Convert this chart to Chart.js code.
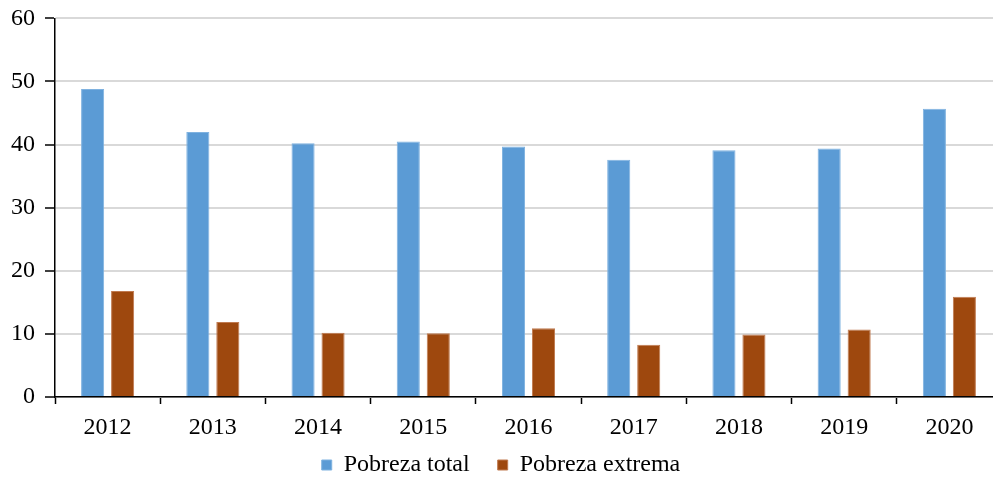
<!DOCTYPE html>
<html>
<head>
<meta charset="utf-8">
<script src="https://cdn.jsdelivr.net/npm/chart.js@4"></script>
<style>
  html, body { margin: 0; padding: 0; background: #fff; overflow: hidden; }
  #wrap { width: 1002px; height: 504px; }
</style>
</head>
<body>
<div id="wrap"><canvas id="barChart"></canvas></div>
<script>
const years = ['2012', '2013', '2014', '2015', '2016', '2017', '2018', '2019', '2020'];
const pobrezaTotal = [48.8, 42.0, 40.2, 40.5, 39.7, 37.6, 39.1, 39.4, 45.7];
const pobrezaExtrema = [16.8, 11.9, 10.2, 10.1, 10.9, 8.3, 9.9, 10.7, 15.9];
const yTicks = [0, 10, 20, 30, 40, 50, 60];

const serif = 'Liberation Serif';

// legend sits a little closer to the axis labels than chart.js would put it
const liftLegend = {
  id: 'liftLegend',
  afterLayout(chart) {
    const lg = chart.legend;
    if (lg) { lg.top -= 17; lg.bottom -= 17; }
  }
};

const ctx = document.getElementById('barChart').getContext('2d');

new Chart(ctx, {
  type: 'bar',
  data: {
    labels: years,
    datasets: [{
      label: 'Pobreza total',
      data: pobrezaTotal,
      backgroundColor: '#5B9BD5',
      borderColor: '#7FB2E0',
      borderWidth: 1,
      barPercentage: 0.77,
      categoryPercentage: 0.57
    }, {
      label: 'Pobreza extrema',
      data: pobrezaExtrema,
      backgroundColor: '#9E480E',
      borderColor: '#C07A50',
      borderWidth: 1,
      barPercentage: 0.77,
      categoryPercentage: 0.57
    }]
  },
  plugins: [liftLegend],
  options: {
    responsive: true,
    maintainAspectRatio: false,
    animation: false,
    layout: { padding: { top: 0, left: 0, right: 0, bottom: 0 } },
    plugins: {
      tooltip: { enabled: false },
      legend: {
        position: 'bottom',
        labels: {
          boxWidth: 10,
          boxHeight: 10,
          padding: 28,
          color: '#000',
          font: { family: serif, size: 24 }
        }
      }
    },
    scales: {
      x: {
        grid: {
          display: true,
          offset: true,
          drawOnChartArea: false,
          tickLength: 7,
          tickColor: '#000',
          tickWidth: 1.5
        },
        border: { color: '#000', width: 1.5 },
        ticks: {
          color: '#000',
          padding: 9,
          font: { family: serif, size: 24 }
        },
        afterFit: (scale) => { scale.height = 45; }
      },
      y: {
        min: 0,
        max: 60,
        afterBuildTicks: (scale) => { scale.ticks = yTicks.map(v => ({ value: v })); },
        grid: {
          color: '#D9D9D9',
          lineWidth: 2,
          tickLength: 10,
          tickColor: '#000',
          tickWidth: 1.5
        },
        border: { color: '#000', width: 1.5 },
        ticks: {
          color: '#000',
          padding: 10,
          font: { family: serif, size: 24, lineHeight: 0.7 }
        },
        afterFit: (scale) => { scale.width = 55; }
      }
    }
  }
});
</script>
</body>
</html>
